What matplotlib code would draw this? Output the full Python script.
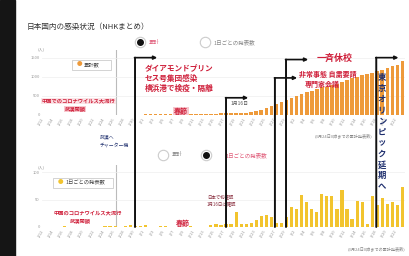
import matplotlib
matplotlib.use('Agg')
import matplotlib.pyplot as plt
from matplotlib.patches import Rectangle, ConnectionPatch
from matplotlib.lines import Line2D
import numpy as np
import pandas as pd

plt.rcParams['font.family'] = ['Noto Sans CJK JP', 'DejaVu Sans']

# data (1/12 .. 3/23)
dates = [f'{d.month}/{d.day}' for d in pd.date_range('2020-01-12', periods=72)]
cumulative = [0, 0, 0, 0, 1, 1, 1, 1, 1, 1, 1, 1, 2, 3, 4, 4, 5, 8, 10, 12,
              15, 15, 15, 17, 18, 18, 18, 18, 18, 19, 19, 19, 25, 30, 35, 40,
              45, 50, 55, 60, 65, 75, 100, 140, 190, 240, 290, 340, 390, 440,
              490, 540, 590, 640, 690, 720, 740, 780, 820, 860, 910, 960, 1000,
              1040, 1080, 1110, 1150, 1190, 1230, 1270, 1320, 1400]
daily = [0, 0, 0, 0, 1, 0, 0, 0, 0, 0, 0, 0, 1, 1, 1, 0, 1, 3, 2, 2,
         3, 0, 0, 2, 1, 0, 0, 0, 0, 1, 0, 0, 0,
         3, 5, 4, 6, 5, 27, 6, 5, 7, 12, 20, 22, 18, 7, 8, 18, 36, 33, 58,
         45, 33, 27, 60, 57, 57, 33, 67, 33, 15, 48, 45, 6, 57, 40, 52, 42,
         45, 40, 73]

# event lines: (day position, arrow top in cumulative units)
events = [(17.95, 1500), (36.0, 450), (45.7, 970), (47.9, 1450), (65.8, 1500)]
charter_day = 14.2

W, H = 409, 256
def fx(x): return x / W
def fy(y): return 1 - y / H

RED = '#cf1f3a'
NAVY = '#1f2f6e'
PINK = '#f7c9cf'

fig = plt.figure(figsize=(4.09, 2.56), dpi=100)
fig.patch.set_facecolor('white')
fig.patches.append(Rectangle((0, 0), fx(15), 1, transform=fig.transFigure,
                             color='#151515', zorder=0))

ax_top = fig.add_axes([fx(42), fy(115), fx(405) - fx(42), fy(50) - fy(115)])
ax_bot = fig.add_axes([fx(42), fy(227), fx(405) - fx(42), fy(165) - fy(227)])

x = np.arange(len(dates))
ax_top.bar(x, cumulative, width=0.72, color='#ee9a3a', zorder=2)
ax_bot.bar(x, daily, width=0.62, color='#f2c42e', zorder=2)

ax_top.set_ylim(0, 1700)
ax_top.set_yticks([0, 500, 1000, 1500])
ax_bot.set_ylim(0, 113)
ax_bot.set_yticks([0, 50, 100])

for ax in (ax_top, ax_bot):
    ax.set_xlim(-0.5, len(dates) - 0.5)
    ax.set_facecolor('none')
    for s in ax.spines.values():
        s.set_visible(False)
    ax.grid(axis='y', color='#eeeeee', linewidth=0.5, zorder=0)
    ax.set_xticks(x[::2])
    ax.set_xticklabels(dates[::2], rotation=60, fontsize=3, color='#aaaaaa')
    ax.tick_params(length=0, pad=1.5, labelsize=3, labelcolor='#999999')
    ax.axvline(charter_day, color='#bbbbbb', linewidth=0.8, zorder=1)
    for lab in ax.get_xticklabels():
        lab.set_ha('right')

# black event lines with arrows
for day, ytop in events:
    con = ConnectionPatch(xyA=(day, ytop), coordsA=ax_top.transData,
                          xyB=(day, 0), coordsB=ax_bot.transData,
                          color='#111111', linewidth=1.4, zorder=5)
    fig.add_artist(con)
    ax_top.annotate('', xy=(day + 4.4, ytop), xytext=(day - 0.1, ytop),
                    arrowprops=dict(arrowstyle='-|>', color='#111111', lw=1.2,
                                    mutation_scale=5, shrinkA=0, shrinkB=0),
                    annotation_clip=False, zorder=6)

def txt(xp, yp, s, **kw):
    kw.setdefault('va', 'center')
    return fig.text(fx(xp), fy(yp), s, **kw)

def radio(xp, yp, on):
    fig.add_artist(Line2D([fx(xp)], [fy(yp)], marker='o', ms=7.5, mfc='white',
                          mec='#cccccc', mew=0.8, transform=fig.transFigure))
    if on:
        fig.add_artist(Line2D([fx(xp)], [fy(yp)], marker='o', ms=4,
                              mfc='#111111', mec='#111111',
                              transform=fig.transFigure))

txt(27, 27, '日本国内の感染状況（NHKまとめ）', fontsize=5.5, color='#333333')

radio(140, 42, True)
txt(149, 42, '累計', fontsize=4, color='#e05a78')
radio(205, 42, False)
txt(214, 42, '1日ごとの発表数', fontsize=4, color='#888888')

radio(163, 155, False)
txt(172, 155, '累計', fontsize=4, color='#888888')
radio(206, 155, True)
txt(226, 155, '1日ごとの発表数', fontsize=4, color='#e05a78')

txt(38, 49, '(人)', fontsize=3, color='#999999')
txt(38, 167, '(人)', fontsize=3, color='#999999')

# legends
txt(77, 65, '●', fontsize=4, color='#ee9a3a')
txt(84, 65, '累計数', fontsize=3.8, color='#444444')
fig.patches.append(Rectangle((fx(72), fy(70)), fx(111) - fx(72), fy(60) - fy(70),
                             transform=fig.transFigure, fc='none', ec='#cccccc', lw=0.6))
txt(58, 183, '●', fontsize=4, color='#f2c42e')
txt(65, 183, '1日ごとの発表数', fontsize=3.8, color='#444444')
fig.patches.append(Rectangle((fx(53), fy(188)), fx(113) - fx(53), fy(178) - fy(188),
                             transform=fig.transFigure, fc='none', ec='#cccccc', lw=0.6))

# annotations
txt(42, 101, '中国でのコロナウイルス大流行', fontsize=3.8, color=RED, weight='bold',
    bbox=dict(boxstyle='square,pad=0.1', fc='#fbe3e6', ec='none'))
txt(75, 109, '武漢閉鎖', fontsize=3.8, color=RED, weight='bold', ha='center',
    bbox=dict(boxstyle='square,pad=0.1', fc=PINK, ec='none'))
txt(100, 137, '武漢へ', fontsize=3.5, color=NAVY)
txt(100, 145, 'チャーター機', fontsize=3.5, color=NAVY)

txt(145, 68, 'ダイアモンドプリン', fontsize=5.5, color=RED, weight='bold')
txt(145, 78, 'セス号集団感染', fontsize=5.5, color=RED, weight='bold')
txt(145, 88, '横浜港で検疫・隔離', fontsize=5.5, color=RED, weight='bold')
txt(181, 111, '春節', fontsize=5, color=RED, weight='bold', ha='center',
    bbox=dict(boxstyle='square,pad=0.1', fc=PINK, ec='none'))
txt(231, 103, '1月16日', fontsize=3.5, color='#555555')

txt(335, 58, '一斉休校', fontsize=6.5, color=RED, weight='bold', ha='center')
txt(328, 74, '非常事態 自粛要請', fontsize=5, color=RED, weight='bold', ha='center')
txt(322, 84, '専門家会議', fontsize=5, color=RED, weight='bold', ha='center')

txt(382, 132, '\n'.join('東京オリンピック延期へ'), fontsize=6, color=NAVY,
    weight='bold', ha='center', linespacing=1.28, zorder=7)

txt(372, 136, '(3月24日0時までの累計発表数)', fontsize=3, color='#888888', ha='right')
txt(405, 249, '(3月24日0時までの累計発表数)', fontsize=3, color='#888888', ha='right')

txt(88, 213, '中国のコロナウイルス大流行', fontsize=3.8, color=RED, weight='bold', ha='center')
txt(80, 221, '武漢閉鎖', fontsize=3.8, color=RED, weight='bold', ha='center')
txt(207, 197, '日本で初確認', fontsize=3.2, color='#8a3040')
txt(207, 204, '1月16日に確認', fontsize=3.2, color='#8a3040')
txt(183, 223, '春節', fontsize=5, color=RED, weight='bold', ha='center')

fig.savefig('out.png', dpi=100, facecolor='white')
